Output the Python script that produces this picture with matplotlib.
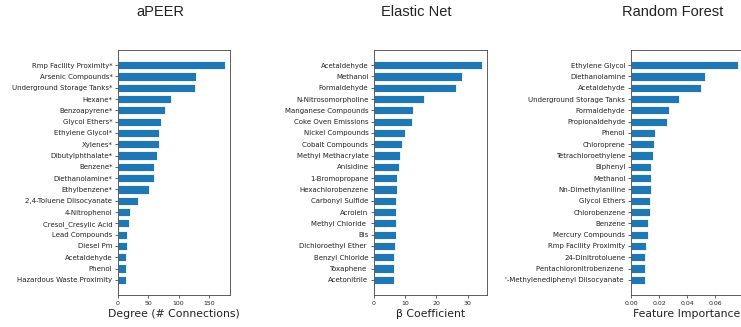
import numpy as np
import matplotlib.pyplot as plt

# aPEER
apeer_labels = ['Rmp Facility Proximity*', 'Arsenic Compounds*', 'Underground Storage Tanks*',
                'Hexane*', 'Benzoapyrene*', 'Glycol Ethers*', 'Ethylene Glycol*', 'Xylenes*',
                'Dibutylphthalate*', 'Benzene*', 'Diethanolamine*', 'Ethylbenzene*',
                '2,4-Toluene Diisocyanate', '4-Nitrophenol', 'Cresol_Cresylic Acid',
                'Lead Compounds', 'Diesel Pm', 'Acetaldehyde', 'Phenol', 'Hazardous Waste Proximity']
apeer_values = [176, 128, 126.5, 87, 77, 70.5, 68, 67, 64.6, 59.7, 58.6, 51,
                32.6, 20.6, 18.5, 15, 14.7, 13.6, 13.6, 13.6]

# Elastic Net
enet_labels = ['Acetaldehyde', 'Methanol', 'Formaldehyde', 'N-Nitrosomorpholine',
               'Manganese Compounds', 'Coke Oven Emissions', 'Nickel Compounds',
               'Cobalt Compounds', 'Methyl Methacrylate', 'Anisidine', '1-Bromopropane',
               'Hexachlorobenzene', 'Carbonyl Sulfide', 'Acrolein', 'Methyl Chloride ',
               'Bis', 'Dichloroethyl Ether ', 'Benzyl Chloride', 'Toxaphene ', 'Acetonitrile']
enet_values = [34.5, 28.2, 26.2, 16.0, 12.6, 12.2, 10.0, 9.1, 8.2, 8.0, 7.5,
               7.4, 7.2, 7.2, 6.9, 6.9, 6.7, 6.4, 6.4, 6.4]

# Random Forest
rf_labels = ['Ethylene Glycol', 'Diethanolamine', 'Acetaldehyde', 'Underground Storage Tanks',
             'Formaldehyde', 'Propionaldehyde', 'Phenol', 'Chloroprene', 'Tetrachloroethylene',
             'Biphenyl', 'Methanol', 'Nn-Dimethylaniline', 'Glycol Ethers', 'Chlorobenzene',
             'Benzene', 'Mercury Compounds', 'Rmp Facility Proximity', '24-Dinitrotoluene',
             'Pentachloronitrobenzene ', "'-Methylenediphenyl Diisocyanate "]
rf_values = [0.0760, 0.0527, 0.0502, 0.0341, 0.0269, 0.0257, 0.0174, 0.0167, 0.0160,
             0.0146, 0.0139, 0.0139, 0.0136, 0.0132, 0.0120, 0.0120, 0.0108, 0.0101,
             0.0101, 0.0099]

fig = plt.figure(figsize=(7.41, 3.27), dpi=100)

W, H = 741, 327
panels = [
    (apeer_labels, apeer_values, 'Degree (# Connections)', 'aPEER', 118, 230, 160,
     [0, 50, 100, 150], ['0', '50', '100', '150']),
    (enet_labels, enet_values, 'β Coefficient', 'Elastic Net', 374, 487, 416,
     [0, 10, 20, 30], ['0', '10', '20', '30']),
    (rf_labels, rf_values, 'Feature Importance', 'Random Forest', 631, 743, 673,
     [0, 0.02, 0.04, 0.06], ['0.00', '0.02', '0.04', '0.06']),
]

bottom = (H - 295) / H
top = (H - 50) / H

for labels, values, xlab, title, x0, x1, tx, ticks, ticklabels in panels:
    ax = fig.add_axes([x0 / W, bottom, (x1 - x0) / W, top - bottom])
    y = np.arange(len(labels))
    ax.barh(y, values, height=0.72, color='#1f77b4', edgecolor='white', linewidth=0.6)
    ax.set_yticks(y)
    ax.set_yticklabels(labels, fontsize=5)
    ax.invert_yaxis()
    ax.set_xticks(ticks)
    ax.set_xticklabels(ticklabels, fontsize=4.5)
    ax.tick_params(axis='both', length=2, width=0.5, pad=2, colors='#222222')
    ax.set_xlabel(xlab, fontsize=7.8, labelpad=2.5, color='#222222')
    for s in ax.spines.values():
        s.set_linewidth(0.6)
        s.set_color('#444444')
    fig.text(tx / W, (H - 12) / H, title, ha='center', va='center',
             fontsize=10.5, family='Liberation Sans', color='#222222')

fig.savefig('out.png', dpi=100)
